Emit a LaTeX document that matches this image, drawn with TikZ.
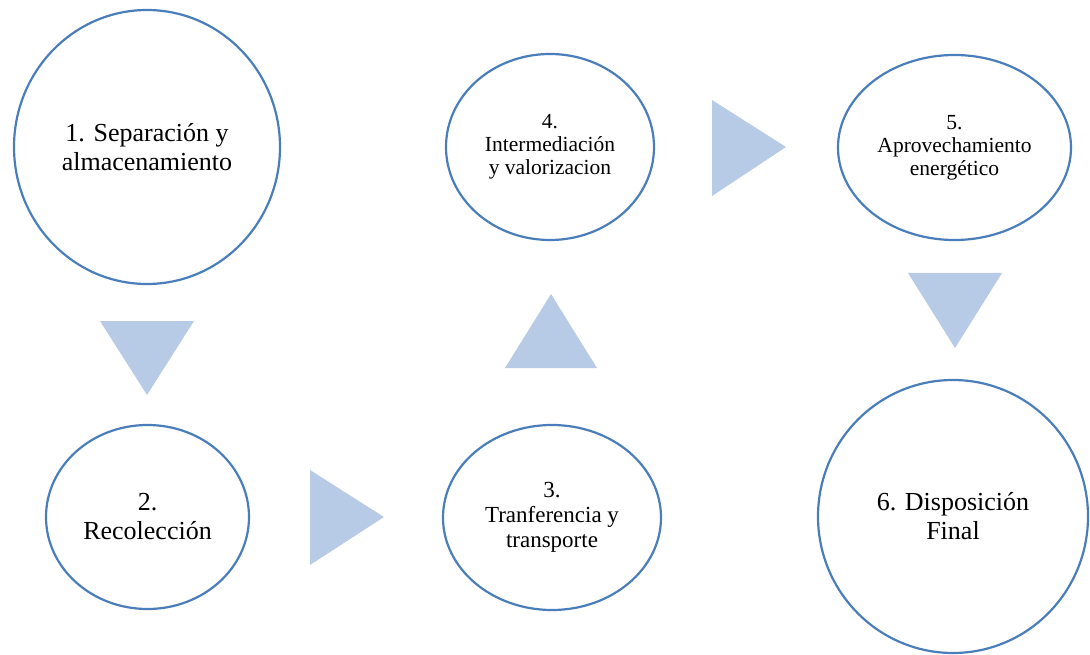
\documentclass[tikz,border=0pt]{standalone}
\usepackage{fontspec}
\setmainfont{Liberation Serif}
\usetikzlibrary{shapes.geometric}
\definecolor{ringblue}{HTML}{4A7EBB}
\definecolor{arrowblue}{HTML}{B7CBE6}
\begin{document}
\begin{tikzpicture}[x=1pt,y=-1pt,
  stage/.style={ellipse,draw=ringblue,line width=2.2pt,fill=white,inner sep=0pt,align=center,text=black},
  bigtxt/.style={font=\fontsize{26}{29}\selectfont},
  midtxt/.style={font=\fontsize{23}{25}\selectfont},
  smalltxt/.style={font=\fontsize{21.5}{23}\selectfont},
  tri/.style={fill=arrowblue,draw=none}]
\useasboundingbox (0,0) rectangle (1090,655);
% stages
\node[stage,bigtxt,minimum width=266pt,minimum height=274pt] (s1) at (147,147) {1. Separación y\\almacenamiento};
\node[stage,bigtxt,minimum width=203pt,minimum height=184pt] (s2) at (147.5,517) {2.\\Recolección};
\node[stage,midtxt,minimum width=218pt,minimum height=185pt] (s3) at (552,517.5) {3.\\Tranferencia y\\transporte};
\node[stage,smalltxt,minimum width=208pt,minimum height=186pt] (s4) at (550,147) {4.\\Intermediación\\y valorizacion};
\node[stage,smalltxt,minimum width=233pt,minimum height=185pt] (s5) at (954.5,147.5) {5.\\Aprovechamiento\\energético};
\node[stage,bigtxt,minimum width=270pt,minimum height=273pt] (s6) at (953,516.5) {6. Disposición\\Final};
% arrow triangles
\fill[tri] (100,321) -- (194,321) -- (147,395) -- cycle;
\fill[tri] (310,470) -- (384,517) -- (310,565) -- cycle;
\fill[tri] (505,368) -- (551,294) -- (597,368) -- cycle;
\fill[tri] (712,100) -- (786,147) -- (712,196) -- cycle;
\fill[tri] (908,273) -- (1002,273) -- (955,348) -- cycle;
\end{tikzpicture}
\end{document}
